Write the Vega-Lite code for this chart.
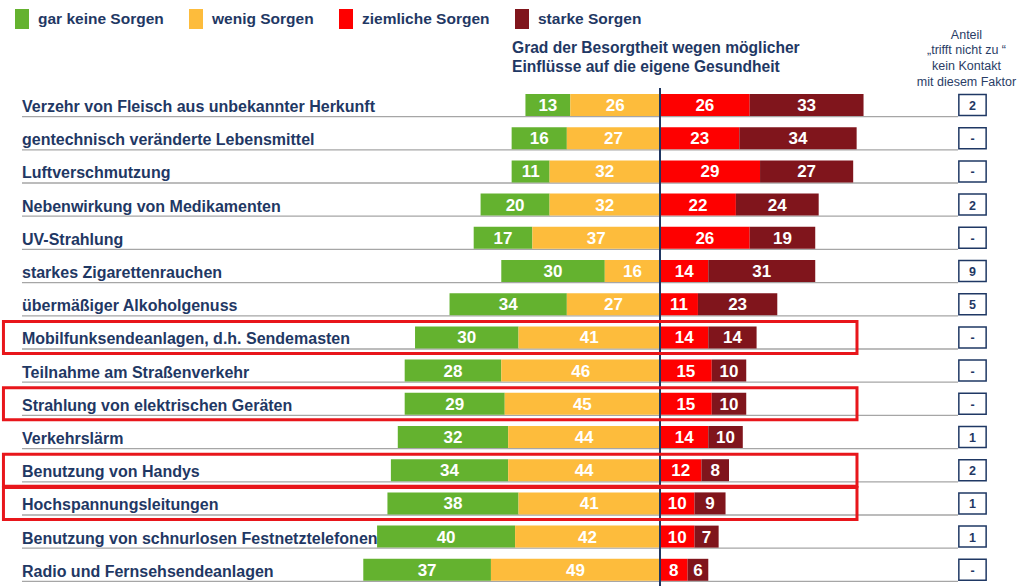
{
  "$schema": "https://vega.github.io/schema/vega-lite/v6.json",
  "width": 1020,
  "height": 586,
  "autosize": {"type": "none"},
  "padding": 0,
  "background": "white",
  "config": {"view": {"stroke": null}, "font": "Liberation Sans"},
  "title": {
    "text": ["Grad der Besorgtheit wegen möglicher", "Einflüsse auf die eigene Gesundheit"],
    "anchor": "start",
    "frame": "group",
    "dx": 512,
    "dy": 76,
    "offset": 0,
    "fontSize": 15.6,
    "fontWeight": "bold",
    "color": "#1f3864",
    "lineHeight": 19.5,
    "baseline": "top",
    "font": "Liberation Sans"
  },
  "datasets": {
    "rows": [
      {"f": "Verzehr von Fleisch aus unbekannter Herkunft", "a": "2"},
      {"f": "gentechnisch veränderte Lebensmittel", "a": "-"},
      {"f": "Luftverschmutzung", "a": "-"},
      {"f": "Nebenwirkung von Medikamenten", "a": "2"},
      {"f": "UV-Strahlung", "a": "-"},
      {"f": "starkes Zigarettenrauchen", "a": "9"},
      {"f": "übermäßiger Alkoholgenuss", "a": "5"},
      {"f": "Mobilfunksendeanlagen, d.h. Sendemasten", "a": "-"},
      {"f": "Teilnahme am Straßenverkehr", "a": "-"},
      {"f": "Strahlung von elektrischen Geräten", "a": "-"},
      {"f": "Verkehrslärm", "a": "1"},
      {"f": "Benutzung von Handys", "a": "2"},
      {"f": "Hochspannungsleitungen", "a": "1"},
      {"f": "Benutzung von schnurlosen Festnetztelefonen", "a": "1"},
      {"f": "Radio und Fernsehsendeanlagen", "a": "-"}
    ],
    "seg": [
      {"f": "Verzehr von Fleisch aus unbekannter Herkunft", "k": "gar keine Sorgen", "n": 13, "w": -13},
      {"f": "Verzehr von Fleisch aus unbekannter Herkunft", "k": "wenig Sorgen", "n": 26, "w": -26},
      {"f": "Verzehr von Fleisch aus unbekannter Herkunft", "k": "ziemliche Sorgen", "n": 26, "w": 26},
      {"f": "Verzehr von Fleisch aus unbekannter Herkunft", "k": "starke Sorgen", "n": 33, "w": 33},
      {"f": "gentechnisch veränderte Lebensmittel", "k": "gar keine Sorgen", "n": 16, "w": -16},
      {"f": "gentechnisch veränderte Lebensmittel", "k": "wenig Sorgen", "n": 27, "w": -27},
      {"f": "gentechnisch veränderte Lebensmittel", "k": "ziemliche Sorgen", "n": 23, "w": 23},
      {"f": "gentechnisch veränderte Lebensmittel", "k": "starke Sorgen", "n": 34, "w": 34},
      {"f": "Luftverschmutzung", "k": "gar keine Sorgen", "n": 11, "w": -11},
      {"f": "Luftverschmutzung", "k": "wenig Sorgen", "n": 32, "w": -32},
      {"f": "Luftverschmutzung", "k": "ziemliche Sorgen", "n": 29, "w": 29},
      {"f": "Luftverschmutzung", "k": "starke Sorgen", "n": 27, "w": 27},
      {"f": "Nebenwirkung von Medikamenten", "k": "gar keine Sorgen", "n": 20, "w": -20},
      {"f": "Nebenwirkung von Medikamenten", "k": "wenig Sorgen", "n": 32, "w": -32},
      {"f": "Nebenwirkung von Medikamenten", "k": "ziemliche Sorgen", "n": 22, "w": 22},
      {"f": "Nebenwirkung von Medikamenten", "k": "starke Sorgen", "n": 24, "w": 24},
      {"f": "UV-Strahlung", "k": "gar keine Sorgen", "n": 17, "w": -17},
      {"f": "UV-Strahlung", "k": "wenig Sorgen", "n": 37, "w": -37},
      {"f": "UV-Strahlung", "k": "ziemliche Sorgen", "n": 26, "w": 26},
      {"f": "UV-Strahlung", "k": "starke Sorgen", "n": 19, "w": 19},
      {"f": "starkes Zigarettenrauchen", "k": "gar keine Sorgen", "n": 30, "w": -30},
      {"f": "starkes Zigarettenrauchen", "k": "wenig Sorgen", "n": 16, "w": -16},
      {"f": "starkes Zigarettenrauchen", "k": "ziemliche Sorgen", "n": 14, "w": 14},
      {"f": "starkes Zigarettenrauchen", "k": "starke Sorgen", "n": 31, "w": 31},
      {"f": "übermäßiger Alkoholgenuss", "k": "gar keine Sorgen", "n": 34, "w": -34},
      {"f": "übermäßiger Alkoholgenuss", "k": "wenig Sorgen", "n": 27, "w": -27},
      {"f": "übermäßiger Alkoholgenuss", "k": "ziemliche Sorgen", "n": 11, "w": 11},
      {"f": "übermäßiger Alkoholgenuss", "k": "starke Sorgen", "n": 23, "w": 23},
      {"f": "Mobilfunksendeanlagen, d.h. Sendemasten", "k": "gar keine Sorgen", "n": 30, "w": -30},
      {"f": "Mobilfunksendeanlagen, d.h. Sendemasten", "k": "wenig Sorgen", "n": 41, "w": -41},
      {"f": "Mobilfunksendeanlagen, d.h. Sendemasten", "k": "ziemliche Sorgen", "n": 14, "w": 14},
      {"f": "Mobilfunksendeanlagen, d.h. Sendemasten", "k": "starke Sorgen", "n": 14, "w": 14},
      {"f": "Teilnahme am Straßenverkehr", "k": "gar keine Sorgen", "n": 28, "w": -28},
      {"f": "Teilnahme am Straßenverkehr", "k": "wenig Sorgen", "n": 46, "w": -46},
      {"f": "Teilnahme am Straßenverkehr", "k": "ziemliche Sorgen", "n": 15, "w": 15},
      {"f": "Teilnahme am Straßenverkehr", "k": "starke Sorgen", "n": 10, "w": 10},
      {"f": "Strahlung von elektrischen Geräten", "k": "gar keine Sorgen", "n": 29, "w": -29},
      {"f": "Strahlung von elektrischen Geräten", "k": "wenig Sorgen", "n": 45, "w": -45},
      {"f": "Strahlung von elektrischen Geräten", "k": "ziemliche Sorgen", "n": 15, "w": 15},
      {"f": "Strahlung von elektrischen Geräten", "k": "starke Sorgen", "n": 10, "w": 10},
      {"f": "Verkehrslärm", "k": "gar keine Sorgen", "n": 32, "w": -32},
      {"f": "Verkehrslärm", "k": "wenig Sorgen", "n": 44, "w": -44},
      {"f": "Verkehrslärm", "k": "ziemliche Sorgen", "n": 14, "w": 14},
      {"f": "Verkehrslärm", "k": "starke Sorgen", "n": 10, "w": 10},
      {"f": "Benutzung von Handys", "k": "gar keine Sorgen", "n": 34, "w": -34},
      {"f": "Benutzung von Handys", "k": "wenig Sorgen", "n": 44, "w": -44},
      {"f": "Benutzung von Handys", "k": "ziemliche Sorgen", "n": 12, "w": 12},
      {"f": "Benutzung von Handys", "k": "starke Sorgen", "n": 8, "w": 8},
      {"f": "Hochspannungsleitungen", "k": "gar keine Sorgen", "n": 38, "w": -38},
      {"f": "Hochspannungsleitungen", "k": "wenig Sorgen", "n": 41, "w": -41},
      {"f": "Hochspannungsleitungen", "k": "ziemliche Sorgen", "n": 10, "w": 10},
      {"f": "Hochspannungsleitungen", "k": "starke Sorgen", "n": 9, "w": 9},
      {"f": "Benutzung von schnurlosen Festnetztelefonen", "k": "gar keine Sorgen", "n": 40, "w": -40},
      {"f": "Benutzung von schnurlosen Festnetztelefonen", "k": "wenig Sorgen", "n": 42, "w": -42},
      {"f": "Benutzung von schnurlosen Festnetztelefonen", "k": "ziemliche Sorgen", "n": 10, "w": 10},
      {"f": "Benutzung von schnurlosen Festnetztelefonen", "k": "starke Sorgen", "n": 7, "w": 7},
      {"f": "Radio und Fernsehsendeanlagen", "k": "gar keine Sorgen", "n": 37, "w": -37},
      {"f": "Radio und Fernsehsendeanlagen", "k": "wenig Sorgen", "n": 49, "w": -49},
      {"f": "Radio und Fernsehsendeanlagen", "k": "ziemliche Sorgen", "n": 8, "w": 8},
      {"f": "Radio und Fernsehsendeanlagen", "k": "starke Sorgen", "n": 6, "w": 6}
    ]
  },
  "encoding": {
    "x": {"type": "quantitative", "scale": {"domain": [-191.3, 104.35], "nice": false, "zero": false},
      "axis": {"orient": "top", "domain": false, "ticks": false, "labels": false, "grid": false,
        "title": ["Anteil", "„trifft nicht zu  “", "kein Kontakt", "mit diesem Faktor"],
        "titleX": 966, "titleY": 28, "titleAlign": "center", "titleBaseline": "top", "titleAngle": 0,
        "titleFontSize": 12.5, "titleFontWeight": "normal", "titleColor": "#2a3d66", "titleLineHeight": 15.8,
        "titleFont": "Liberation Sans", "titlePadding": 0}},
    "y": {"type": "nominal", "sort": null, "axis": null,
      "scale": {"domain": ["Verzehr von Fleisch aus unbekannter Herkunft", "gentechnisch veränderte Lebensmittel", "Luftverschmutzung", "Nebenwirkung von Medikamenten", "UV-Strahlung", "starkes Zigarettenrauchen", "übermäßiger Alkoholgenuss", "Mobilfunksendeanlagen, d.h. Sendemasten", "Teilnahme am Straßenverkehr", "Strahlung von elektrischen Geräten", "Verkehrslärm", "Benutzung von Handys", "Hochspannungsleitungen", "Benutzung von schnurlosen Festnetztelefonen", "Radio und Fernsehsendeanlagen"], "range": [88.4, 586.4], "paddingInner": 0, "paddingOuter": 0}}
  },
  "layer": [
    {
      "data": {"name": "rows"},
      "mark": {"type": "rule", "color": "#a6a6a6", "strokeWidth": 1.3, "yOffset": 11.6},
      "encoding": {
        "x": {"datum": -184.93},
        "x2": {"datum": 86.38},
        "y": {"field": "f"}
      }
    },
    {
      "data": {"name": "seg"},
      "transform": [
        {"stack": "w", "groupby": ["f"], "sort": [{"field": "k", "order": "descending"}], "as": ["x0", "x1"]},
        {"calculate": "(datum.x0 + datum.x1) / 2", "as": "xm"}
      ],
      "layer": [
        {
          "mark": {"type": "bar", "height": 22},
          "encoding": {
            "x": {"field": "x0"},
            "x2": {"field": "x1"},
            "y": {"field": "f"},
            "color": {"field": "k", "type": "nominal",
              "scale": {"domain": ["gar keine Sorgen", "wenig Sorgen", "ziemliche Sorgen", "starke Sorgen"], "range": ["#64b22f", "#fdbc3c", "#fe0000", "#80151c"]},
              "legend": {"orient": "none", "legendX": 12, "legendY": 9, "direction": "horizontal", "columns": 4, "title": null,
                "symbolType": "M-0.7,-1H0.7V1H-0.7Z", "symbolSize": 400, "symbolStrokeWidth": 0,
                "labelFontSize": 15.5, "labelFont": "Liberation Sans", "labelFontWeight": "bold", "labelColor": "#1f3864",
                "labelOffset": 6, "columnPadding": 22, "labelLimit": 300}}
          }
        },
        {
          "mark": {"type": "text", "fontSize": 17, "fontWeight": "bold", "color": "white", "baseline": "middle", "dy": 1},
          "encoding": {
            "x": {"field": "xm"},
            "y": {"field": "f"},
            "text": {"field": "n", "type": "quantitative"}
          }
        }
      ]
    },
    {
      "data": {"name": "rows"},
      "mark": {"type": "rule", "color": "#1f3864", "strokeWidth": 1.2, "yOffset": -17, "y2Offset": 17},
      "encoding": {
        "x": {"datum": 0},
        "y": {"datum": "Verzehr von Fleisch aus unbekannter Herkunft"},
        "y2": {"datum": "Radio und Fernsehsendeanlagen"}
      }
    },
    {
      "data": {"name": "rows"},
      "mark": {"type": "text", "align": "left", "baseline": "middle", "fontSize": 16, "fontWeight": "bold", "color": "#1f3864", "dy": 2},
      "encoding": {
        "x": {"datum": -184.93},
        "y": {"field": "f"},
        "text": {"field": "f", "type": "nominal"}
      }
    },
    {
      "data": {"name": "rows"},
      "mark": {"type": "point", "shape": "M-1.3,-1H1.3V1H-1.3Z", "size": 441, "filled": true, "fill": "white", "stroke": "#1f3864", "strokeWidth": 1.5, "opacity": 1},
      "encoding": {
        "x": {"datum": 90.58},
        "y": {"field": "f"}
      }
    },
    {
      "data": {"name": "rows"},
      "mark": {"type": "text", "fontSize": 12.5, "fontWeight": "bold", "color": "#1f3864", "baseline": "middle", "dy": 1},
      "encoding": {
        "x": {"datum": 90.58},
        "y": {"field": "f"},
        "text": {"field": "a", "type": "nominal"}
      }
    },
    {
      "data": {"name": "rows"},
      "transform": [{"filter": {"field": "f", "oneOf": ["Mobilfunksendeanlagen, d.h. Sendemasten", "Strahlung von elektrischen Geräten", "Benutzung von Handys", "Hochspannungsleitungen"]}}],
      "mark": {"type": "bar", "height": 32, "fillOpacity": 0, "stroke": "#e8161b", "strokeWidth": 3},
      "encoding": {
        "x": {"datum": -190.3},
        "x2": {"datum": 57.1},
        "y": {"field": "f"}
      }
    }
  ]
}
